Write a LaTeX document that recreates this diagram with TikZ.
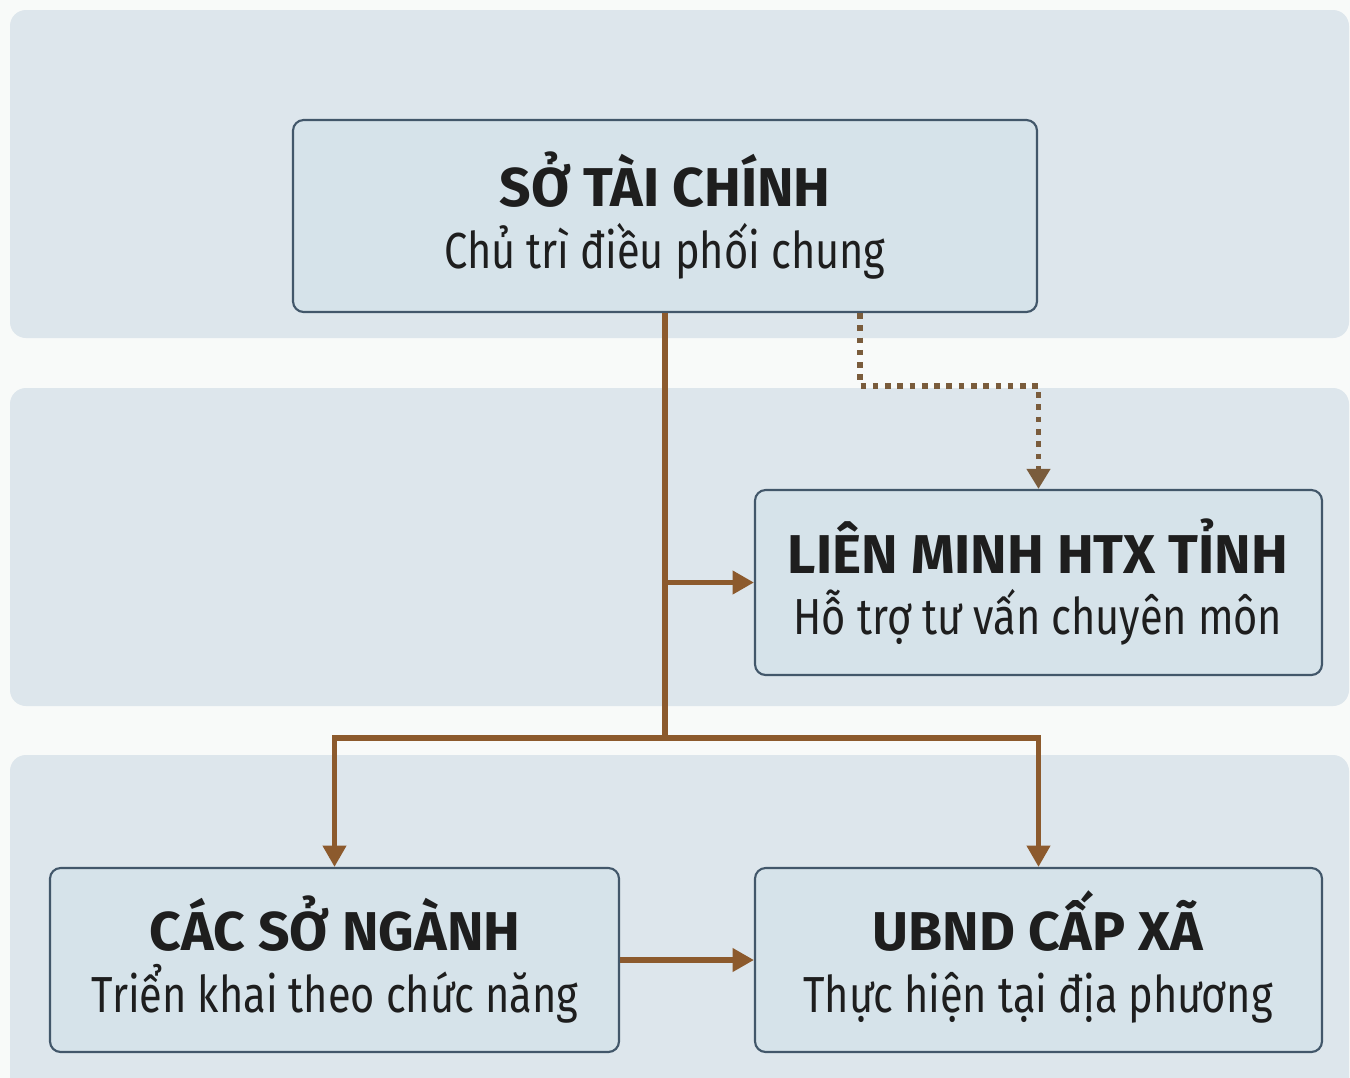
\documentclass[tikz,border=0pt]{standalone}
\usepackage{fontspec}
\setmainfont{Fira Sans}
\newfontfamily\titlefont{Fira Sans Bold}[FakeStretch=1.01]
\newfontfamily\subfont{Fira Sans}[FakeStretch=0.82]
\usetikzlibrary{arrows.meta}
\definecolor{pagebg}{HTML}{F8FAF9}
\definecolor{bandbg}{HTML}{DDE6EC}
\definecolor{boxbg}{HTML}{D6E3EA}
\definecolor{boxline}{HTML}{42576A}
\definecolor{brownline}{HTML}{8C5A2D}
\definecolor{dotline}{HTML}{7A5C3C}
\definecolor{txt}{HTML}{1E1E1E}
\tikzset{
  band/.style={fill=bandbg, draw=none, rounded corners=12pt},
  orgbox/.style={draw=boxline, line width=1.6pt, fill=boxbg, rounded corners=8pt, inner sep=0pt},
  titletext/.style={anchor=base, inner sep=0pt, text=txt, font=\titlefont\fontsize{41}{41}\selectfont},
  subtext/.style={anchor=base, inner sep=0pt, text=txt, font=\subfont\fontsize{38}{38}\selectfont},
  conn/.style={draw=brownline, line width=3.8pt},
  arr/.style={conn, -{Triangle[length=16pt,width=17pt]}},
  dotconn/.style={draw=dotline, line width=4.2pt, dash pattern=on 4.2pt off 5pt,
    -{Triangle[length=15pt,width=17pt]}},
}
\begin{document}
\begin{tikzpicture}[x=0.75pt,y=-0.75pt]
\useasboundingbox (0,0) rectangle (1350,1078);
\fill[pagebg] (0,0) rectangle (1350,1078);
\fill[band] (10,10) rectangle (1349,338);
\fill[band] (10,388) rectangle (1349,706);
\fill[band] (10,755) rectangle (1349,1100);

\node[orgbox, minimum width=558pt, minimum height=144pt] (top) at (665,216) {};
\node[orgbox, minimum width=425.25pt, minimum height=138.75pt] (lm) at (1038.5,582.5) {};
\node[orgbox, minimum width=426.75pt, minimum height=138pt] (csn) at (334.5,960) {};
\node[orgbox, minimum width=425.25pt, minimum height=138pt] (ub) at (1038.5,960) {};

\node[titletext] (topT) at (665,206) {SỞ TÀI CHÍNH};
\node[subtext]   (topS) at (665,268) {Chủ trì điều phối chung};
\node[titletext] (lmT) at (1038,573) {LIÊN MINH HTX TỈNH};
\node[subtext]   (lmS) at (1038,634) {Hỗ trợ tư vấn chuyên môn};
\node[titletext] (csnT) at (335,950) {CÁC SỞ NGÀNH};
\node[subtext]   (csnS) at (335,1012) {Triển khai theo chức năng};
\node[titletext] (ubT) at (1038,950) {UBND CẤP XÃ};
\node[subtext]   (ubS) at (1038,1012) {Thực hiện tại địa phương};

\coordinate (j) at (665,738);
\draw[conn] (top.south) -- (j);
\draw[arr] (top.south |- lm.west) -- (lm.west);
\draw[arr] (j) -| (csn.north);
\draw[arr] (j) -| (ub.north);
\draw[arr] (csn.east) -- (ub.west);
\draw[dotconn] ([xshift=146.25pt]top.south) -- ++(0,73) -| (lm.north);
\end{tikzpicture}
\end{document}
